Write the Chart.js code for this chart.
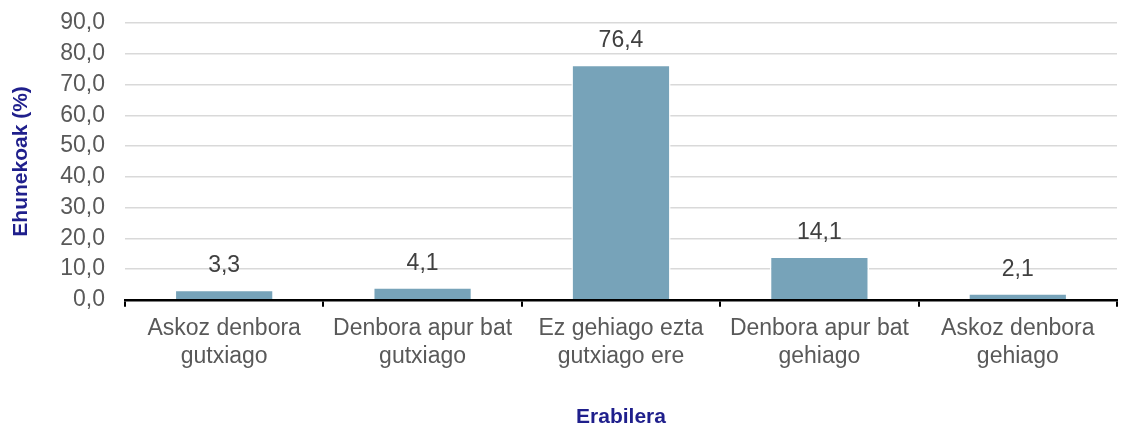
<!DOCTYPE html>
<html>
<head>
<meta charset="utf-8">
<script src="https://cdn.jsdelivr.net/npm/chart.js@4"></script>
<style>
  html, body { margin: 0; padding: 0; background: #ffffff; }
  #wrap { width: 1129px; height: 425px; position: relative; }
</style>
</head>
<body>
<div id="wrap"><canvas id="c" width="1129" height="425"></canvas></div>
<script>
const categories = [
  ["Askoz denbora", "gutxiago"],
  ["Denbora apur bat", "gutxiago"],
  ["Ez gehiago ezta", "gutxiago ere"],
  ["Denbora apur bat", "gehiago"],
  ["Askoz denbora", "gehiago"]
];
const values = [3.3, 4.1, 76.4, 14.1, 2.1];
const yAxisTitle = "Ehunekoak (%)";
const xAxisTitle = "Erabilera";

const fmt = v => Number(v).toFixed(1).replace('.', ',');
const FONT = '"Liberation Sans", Arial, sans-serif';

const dataLabels = {
  id: 'dataLabels',
  afterDatasetsDraw(chart) {
    const ctx = chart.ctx;
    const meta = chart.getDatasetMeta(0);
    ctx.save();
    ctx.font = '23px ' + FONT;
    ctx.fillStyle = '#404040';
    ctx.textAlign = 'center';
    ctx.textBaseline = 'middle';
    meta.data.forEach((bar, i) => {
      ctx.fillText(fmt(values[i]), bar.x, bar.y - 24);
    });
    ctx.restore();
  }
};

new Chart(document.getElementById('c'), {
  type: 'bar',
  data: {
    labels: categories,
    datasets: [{
      data: values,
      backgroundColor: '#77a3b9',
      borderColor: '#ffffff',
      borderWidth: 1.5,
      categoryPercentage: 1.0,
      barPercentage: 0.5
    }]
  },
  options: {
    responsive: false,
    animation: false,
    devicePixelRatio: 1,
    layout: { padding: { left: 0, right: 12, top: 23, bottom: -3 } },
    plugins: {
      legend: { display: false },
      tooltip: { enabled: false }
    },
    scales: {
      x: {
        offset: true,
        grid: {
          display: true,
          drawOnChartArea: false,
          drawTicks: true,
          tickLength: 7,
          color: '#000000',
          lineWidth: 2,
          offset: true
        },
        border: { display: true, color: '#000000', width: 2.5 },
        ticks: {
          color: '#595959',
          font: { family: FONT, size: 23 },
          padding: 8,
          maxRotation: 0,
          autoSkip: false
        },
        title: {
          display: true,
          text: xAxisTitle,
          color: '#1f1f8c',
          font: { family: FONT, size: 21, weight: 'bold', lineHeight: 1.0 },
          padding: { top: 29, bottom: 0 }
        }
      },
      y: {
        min: 0,
        max: 90,
        ticks: {
          stepSize: 10,
          autoSkip: false,
          color: '#595959',
          font: { family: FONT, size: 23 },
          padding: 0,
          callback: v => fmt(v)
        },
        grid: {
          color: '#d9d9d9',
          lineWidth: 1.5,
          drawTicks: true,
          tickLength: 20,
          tickColor: 'rgba(0,0,0,0)'
        },
        border: { display: false },
        title: {
          display: true,
          text: yAxisTitle,
          color: '#1f1f8c',
          font: { family: FONT, size: 21, weight: 'bold', lineHeight: 1.2 },
          padding: { top: 9, bottom: 26 }
        }
      }
    }
  },
  plugins: [dataLabels]
});
</script>
</body>
</html>
